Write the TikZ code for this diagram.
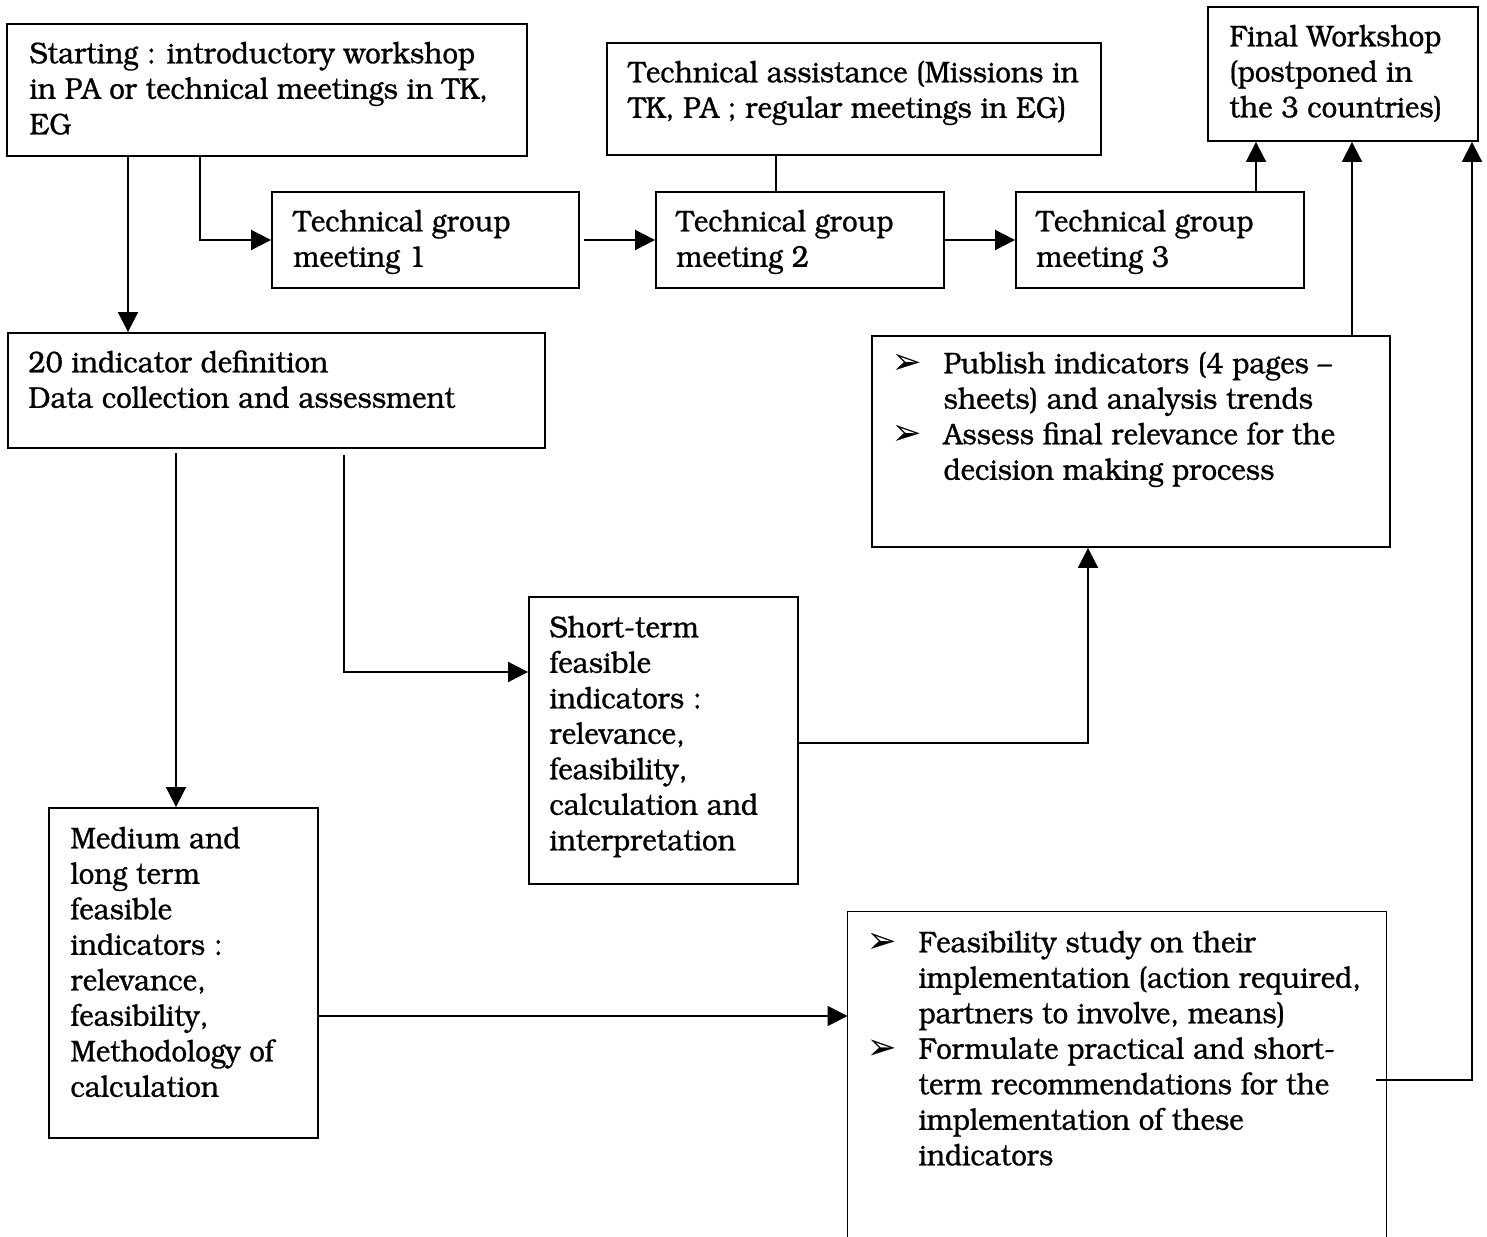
\documentclass[tikz,border=0pt]{standalone}
\usepackage[T1]{fontenc}
\usepackage{bookman}
\usepackage{pifont}
\usepackage{graphicx}
\usetikzlibrary{arrows.meta,fit}
\newcommand{\mybul}{\makebox[20.9pt][l]{\raisebox{0.6pt}{\fontsize{11.5}{12}\selectfont\ding{226}}}}
\newcommand{\myind}{\hspace*{20.9pt}}
\newcommand{\boxtext}[1]{\special{pdf:literal direct 2 Tr 0.1 w}\scalebox{0.92}[1]{\begin{tabular}{@{}l@{}}#1\end{tabular}}}
\begin{document}
\begin{tikzpicture}[x=0.4pt,y=-0.4pt,
  box/.style={draw, line width=0.75pt, inner sep=0pt},
  txt/.style={anchor=north west, inner sep=0pt, font=\fontsize{12}{14.2}\selectfont},
  conn/.style={line width=0.75pt},
  arr/.style={conn, -{Triangle[length=8pt,width=8pt]}}]
\useasboundingbox[fill=white] (0,0) rectangle (1487,1237);

% boxes
\node[box, fit={(7,24) (527,156)}] (A) {};
\node[box, fit={(607,43) (1101,155)}] (B) {};
\node[box, fit={(1208,7) (1478,141)}] (C) {};
\node[box, fit={(272,192) (579,288)}] (D) {};
\node[box, fit={(656,192) (944,288)}] (E) {};
\node[box, fit={(1016,192) (1304,288)}] (F) {};
\node[box, fit={(8,333) (545,448)}] (G) {};
\node[box, fit={(872,336) (1390,547)}] (H) {};
\node[box, fit={(529,597) (798,884)}] (I) {};
\node[box, fit={(49,808) (318,1138)}] (J) {};
\node[inner sep=0pt, fit={(848,912) (1386,1237)}] (K) {};
\draw[conn, line join=miter] (K.south west) -- (K.north west) -- (K.north east) -- (K.south east);

% texts
\node[txt] (At) at (29,38) {\boxtext{Starting : introductory workshop\\in PA or technical meetings in TK,\\EG}};
\node[txt] (Bt) at (628,57) {\boxtext{Technical assistance (Missions in\\TK, PA ; regular meetings in EG)}};
\node[txt] (Ct) at (1229,21) {\boxtext{Final Workshop\\(postponed in\\the 3 countries)}};
\node[txt] (Dt) at (293,206) {\boxtext{Technical group\\meeting 1}};
\node[txt] (Et) at (676,206) {\boxtext{Technical group\\meeting 2}};
\node[txt] (Ft) at (1036,206) {\boxtext{Technical group\\meeting 3}};
\node[txt] (Gt) at (28,347) {\boxtext{20 indicator definition\\Data collection and assessment}};
\node[txt] (Ht) at (895,348) {\boxtext{\mybul Publish indicators (4 pages --\\\myind sheets) and analysis trends\\\mybul Assess final relevance for the\\\myind decision making process}};
\node[txt] (It) at (549,612) {\boxtext{Short-term\\feasible\\indicators :\\relevance,\\feasibility,\\calculation and\\interpretation}};
\node[txt] (Jt) at (70,823) {\boxtext{Medium and\\long term\\feasible\\indicators :\\relevance,\\feasibility,\\Methodology of\\calculation}};
\node[txt] (Kt) at (870,927) {\boxtext{\mybul Feasibility study on their\\\myind implementation (action required,\\\myind partners to involve, means)\\\mybul Formulate practical and short-\\\myind term recommendations for the\\\myind implementation of these\\\myind indicators}};

% helper coordinates
\coordinate (x128) at (128,0);
\coordinate (x200) at (200,0);
\coordinate (x176) at (176,0);
\coordinate (x344) at (344,0);
\coordinate (x776) at (776,0);
\coordinate (x1088) at (1088,0);
\coordinate (x1256) at (1256,0);
\coordinate (x1352) at (1352,0);
\coordinate (x1472) at (1472,0);
\coordinate (y672) at (0,672);
\coordinate (y743) at (0,743);
\coordinate (y1016) at (0,1016);
\coordinate (kout) at (1376,1080);

% connectors
\draw[arr] (x128 |- A.south) -- (x128 |- G.north);
\draw[arr] (x200 |- A.south) |- (D.west);
\draw[arr, shorten <=1.5pt] (D.east) -- (E.west);
\draw[conn] (x776 |- B.south) -- (x776 |- E.north);
\draw[arr] (E.east) -- (F.west);
\draw[arr] (x1256 |- F.north) -- (x1256 |- C.south);
\draw[arr] (x1352 |- H.north) -- (x1352 |- C.south);
\draw[arr] (kout) -| (x1472 |- C.south);
\draw[arr, shorten <=1.5pt] (x176 |- G.south) -- (x176 |- J.north);
\draw[arr, shorten <=2.5pt] (x344 |- G.south) |- (I.west |- y672);
\draw[arr] (I.east |- y743) -| (x1088 |- H.south);
\draw[arr] (J.east |- y1016) -- (K.west |- y1016);
\end{tikzpicture}
\end{document}
